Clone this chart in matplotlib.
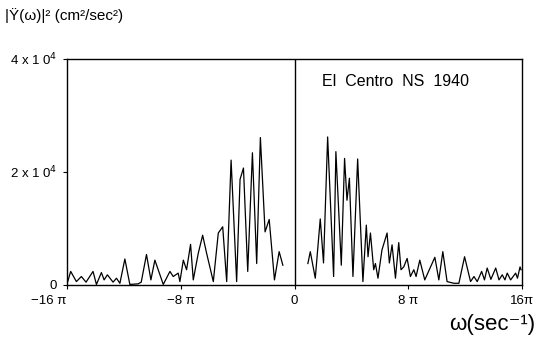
import numpy as np
import matplotlib.pyplot as plt

plt.rcParams['font.family'] = ['Liberation Sans', 'DejaVu Sans']

# omega in units of pi, |Y''(w)|^2 in cm^2/sec^2
w_left = [-15.95, -15.74, -15.34, -14.99, -14.66, -14.17, -13.93, -13.58, -13.39,
          -13.16, -12.76, -12.52, -12.28, -11.93, -11.58, -11.0, -10.78, -10.41,
          -10.10, -9.82, -9.23, -8.76, -8.53, -8.18, -8.06, -7.82, -7.59, -7.31,
          -7.12, -6.77, -6.46, -6.18, -5.71, -5.36, -5.05, -4.77, -4.46, -4.07,
          -3.83, -3.59, -3.29, -2.96, -2.66, -2.40, -2.07, -1.78, -1.41, -1.08, -0.82]
y_left = [600, 2400, 600, 1500, 500, 2400, 100, 2200, 900,
          1800, 500, 1200, 300, 4600, 100, 200, 500, 5400,
          900, 4400, 100, 2400, 1500, 2100, 600, 4400, 2700, 7200,
          900, 5600, 8800, 5600, 600, 9200, 10300, 600, 22100, 600,
          18700, 20700, 2400, 23400, 3800, 26100, 9400, 11600, 900, 5900, 3500]

w_right = [0.94, 1.11, 1.46, 1.81, 2.04, 2.33, 2.75, 2.91, 3.29, 3.52, 3.69, 3.86,
           4.11, 4.44, 4.81, 5.05, 5.17, 5.34, 5.57, 5.69, 5.87, 6.15, 6.51, 6.67,
           6.86, 7.10, 7.33, 7.49, 7.68, 7.92, 8.15, 8.39, 8.55, 8.81, 9.16, 9.87,
           10.15, 10.43, 10.73, 11.21, 11.56, 11.96, 12.38, 12.62, 12.85, 13.16,
           13.36, 13.55, 13.81, 14.15, 14.38, 14.61, 14.80, 14.96, 15.20, 15.55,
           15.68, 15.86, 15.93]
y_right = [3800, 5900, 1200, 11700, 3900, 26200, 1500, 23600, 3500, 22400, 15000, 18900,
           1500, 22300, 600, 10600, 5000, 9200, 2700, 3800, 1200, 6200, 9200, 3900,
           7100, 1200, 7500, 2700, 3200, 4700, 1500, 2700, 1500, 4400, 900, 4900,
           900, 5900, 600, 300, 300, 5000, 600, 1500, 600, 2400,
           900, 3000, 1000, 3000, 900, 1800, 900, 2100, 900, 2100,
           1200, 3200, 2700]

xtick_pos = [-16, -8, 0, 8, 16]
xtick_lab = ['\u221216 \u03c0', '\u22128 \u03c0', '0', '8 \u03c0', '16\u03c0']
ytick_pos = [0, 2e4, 4e4]
ytick_lab = ['0', '2 x 1 0$^4$', '4 x 1 0$^4$']

fig = plt.figure(figsize=(5.39, 3.40), dpi=100)
ax = fig.add_axes([0.1243, 0.1618, 0.8442, 0.6647])

ax.plot(np.pi * np.array(w_left), y_left, color='k', lw=0.9)
ax.plot(np.pi * np.array(w_right), y_right, color='k', lw=0.9)
ax.axvline(0, color='k', lw=1)

ax.set_xlim(-16 * np.pi, 16 * np.pi)
ax.set_ylim(0, 4e4)
ax.set_xticks([p * np.pi for p in xtick_pos])
ax.set_xticklabels(xtick_lab, fontsize=9.5)
ax.get_xticklabels()[0].set_horizontalalignment('right')
ax.set_yticks(ytick_pos)
ax.set_yticklabels(ytick_lab, fontsize=9.5)
ax.tick_params(direction='out', length=3, width=0.8, pad=4)
for s in ax.spines.values():
    s.set_linewidth(1)

ax.text(0.56, 0.88, 'El  Centro  NS  1940', transform=ax.transAxes, fontsize=11.5)
fig.text(0.01, 0.955, '|\u0178(\u03c9)|\u00b2 (cm\u00b2/sec\u00b2)', fontsize=11, va='center')
fig.text(0.993, 0.045, '\u03c9(sec\u207b\u00b9)', fontsize=16, ha='right', va='center')

fig.savefig('out.png', dpi=100)
